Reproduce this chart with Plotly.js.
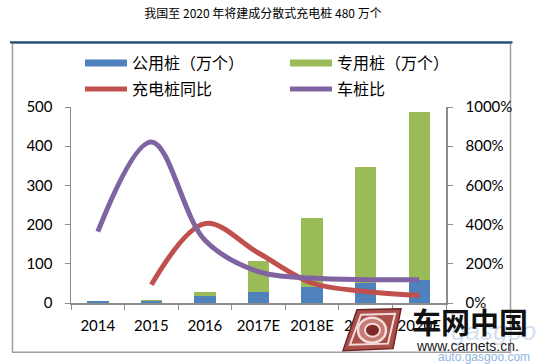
<!DOCTYPE html>
<html>
<head>
<meta charset="utf-8">
<script src="https://cdn.plot.ly/plotly-3.0.1.min.js"></script>
<style>html,body{margin:0;padding:0;background:#fff;}#chart{width:539px;height:364px;}</style>
</head>
<body>
<div id="chart"></div>
<script>
// ---- data ----
const years = ['2014', '2015', '2016', '2017E', '2018E', '2019E', '2020E'];
const publicPiles = [5, 4, 19, 27, 40, 51, 59];          // 公用桩（万个）
const privatePiles = [0, 4, 9, 81, 176, 297, 427];       // 专用桩（万个）
const pileGrowth = [null, 93, 405, 255, 102, 59, 39];    // 充电桩同比 (%)
const carPileRatio = [364, 822, 320, 160, 127, 119, 119];// 车桩比 (%)
const seriesNames = ['公用桩（万个）', '专用桩（万个）', '充电桩同比', '车桩比'];
const leftTicks = [0, 100, 200, 300, 400, 500];
const rightTicks = [0, 200, 400, 600, 800, 1000];
const rightTickText = rightTicks.map(v => v + '%');

// ---- layout geometry (pixels) ----
const W = 539, H = 364;
const L = 71, R = 446, T = 107, B = 303.3;
const px = x => (x - L) / (R - L);
const py = y => (B - y) / (B - T);
const path = pts => 'M' + pts.map(p => px(p[0]).toFixed(4) + ',' + py(p[1]).toFixed(4)).join(' L') + ' Z';

const blue = '#4F81BD', green = '#9BBB59', red = '#C0504D', purple = '#8064A2';
const axisGray = '#8C8C8C';
const tickFont = {family: 'Lato, "Open Sans", sans-serif', size: 15, color: '#000'};
const cjk = '"Noto Sans CJK SC", sans-serif';

const traces = [
  {type: 'bar', x: years, y: publicPiles, name: seriesNames[0], marker: {color: blue}, showlegend: false, hoverinfo: 'y'},
  {type: 'bar', x: years, y: privatePiles, name: seriesNames[1], marker: {color: green}, showlegend: false, hoverinfo: 'y'},
  {type: 'scatter', mode: 'lines', x: years, y: pileGrowth, yaxis: 'y2', name: seriesNames[2], legend: 'legend3',
   line: {color: red, width: 5, shape: 'spline', smoothing: 1}, connectgaps: false},
  {type: 'scatter', mode: 'lines', x: years, y: carPileRatio, yaxis: 'y2', name: seriesNames[3], legend: 'legend4',
   line: {color: purple, width: 5, shape: 'spline', smoothing: 1}},
  // legend swatches for the bar series (drawn as wide bars like the original)
  {type: 'scatter', mode: 'lines', x: [null], y: [null], name: seriesNames[0], legend: 'legend',
   line: {color: blue, width: 7}, hoverinfo: 'skip'},
  {type: 'scatter', mode: 'lines', x: [null], y: [null], name: seriesNames[1], legend: 'legend2',
   line: {color: green, width: 7}, hoverinfo: 'skip'}
];

function leg(xPix, yPix) {
  return {orientation: 'v', xref: 'container', yref: 'container', x: xPix / W, xanchor: 'left',
          y: 1 - yPix / H, yanchor: 'top', font: {family: cjk, size: 16, color: '#000'},
          itemwidth: 42, bgcolor: 'rgba(0,0,0,0)', borderwidth: 0, itemclick: false};
}

const layout = {
  width: W, height: H,
  margin: {l: L, r: W - R, t: T, b: H - B, pad: 0, autoexpand: false},
  paper_bgcolor: '#fff', plot_bgcolor: '#fff',
  barmode: 'stack', bargap: 0.6,
  showlegend: true,
  title: {text: '我国至 2020 年将建成分散式充电桩 480 万个', font: {family: cjk, size: 12, color: '#000'},
          x: 263 / W, xref: 'container', xanchor: 'center', y: 1 - 14 / H, yref: 'container', yanchor: 'middle'},
  legend: leg(80, 46),
  legend2: leg(285, 46),
  legend3: leg(80, 72),
  legend4: leg(285, 72),
  xaxis: {type: 'category', tickson: 'boundaries', ticks: 'outside', ticklen: 5, tickcolor: axisGray,
          showline: true, linecolor: axisGray, linewidth: 1.5, showgrid: false, zeroline: false,
          tickfont: tickFont, ticklabelstandoff: 8, fixedrange: true},
  yaxis: {range: [0, 500], tickvals: leftTicks, ticks: 'outside', ticklen: 5, tickcolor: axisGray,
          showline: true, linecolor: axisGray, linewidth: 1.5, showgrid: false, zeroline: false,
          tickfont: tickFont, ticklabelstandoff: 9, fixedrange: true},
  yaxis2: {range: [0, 1000], tickmode: 'array', tickvals: rightTicks, ticktext: rightTickText, overlaying: 'y', side: 'right',
           ticks: 'outside', ticklen: 5, tickcolor: axisGray, showline: true, linecolor: axisGray, linewidth: 1.5,
           showgrid: false, zeroline: false, tickfont: tickFont, ticklabelstandoff: 10, fixedrange: true},
  shapes: [
    {type: 'rect', xref: 'paper', yref: 'paper', x0: px(12.5), x1: px(510.5), y0: py(352.7), y1: py(43),
     line: {color: '#A0A0A0', width: 1.5}, fillcolor: 'rgba(0,0,0,0)', layer: 'below'},
    {type: 'line', xref: 'paper', yref: 'paper', x0: px(10), x1: px(512.5), y0: py(42.3), y1: py(42.3),
     line: {color: '#1F4E79', width: 2.2}},
    // watermark logo (rough)
    {type: 'path', xref: 'paper', yref: 'paper', path: path([[357, 310], [401, 309], [393, 349], [343, 351]]),
     fillcolor: '#A9504A', line: {color: '#6E2420', width: 1.5}},
    {type: 'path', xref: 'paper', yref: 'paper', path: path([[361, 315], [395, 314], [388, 344], [350, 345]]),
     fillcolor: 'rgba(0,0,0,0)', line: {color: '#F3DCDA', width: 2}},
    {type: 'circle', xref: 'paper', yref: 'paper', x0: px(358), x1: px(386), y0: py(343), y1: py(318),
     fillcolor: '#C77B75', line: {color: '#F3DCDA', width: 2.5}},
    {type: 'circle', xref: 'paper', yref: 'paper', x0: px(365), x1: px(380), y0: py(337), y1: py(324),
     fillcolor: '#7E2A26', line: {color: '#F3DCDA', width: 2}}
  ],
  annotations: [
    {text: '<i>gasgoo</i>', xref: 'paper', yref: 'paper', x: px(493), y: py(331), xanchor: 'center', yanchor: 'middle',
     showarrow: false, font: {family: 'Liberation Sans, Arial, sans-serif', size: 26, color: '#D3E1F2'}},
    {text: '<b>车网中国</b>', xref: 'paper', yref: 'paper', x: px(470), y: py(321), xanchor: 'center', yanchor: 'middle',
     showarrow: false, font: {family: cjk, size: 29, color: '#111'}},
    {text: 'www.carnets.cn.', xref: 'paper', yref: 'paper', x: px(467), y: py(346), xanchor: 'center', yanchor: 'middle',
     showarrow: false, font: {family: 'Liberation Sans, Arial, sans-serif', size: 14, color: '#222'}},
    {text: 'auto.gasgoo.com', xref: 'paper', yref: 'paper', x: px(484), y: py(357), xanchor: 'center', yanchor: 'middle',
     showarrow: false, font: {family: 'Liberation Sans, Arial, sans-serif', size: 12, color: '#8FB4E0'}}
  ]
};

Plotly.newPlot('chart', traces, layout, {displayModeBar: false, staticPlot: true});
</script>
</body>
</html>
